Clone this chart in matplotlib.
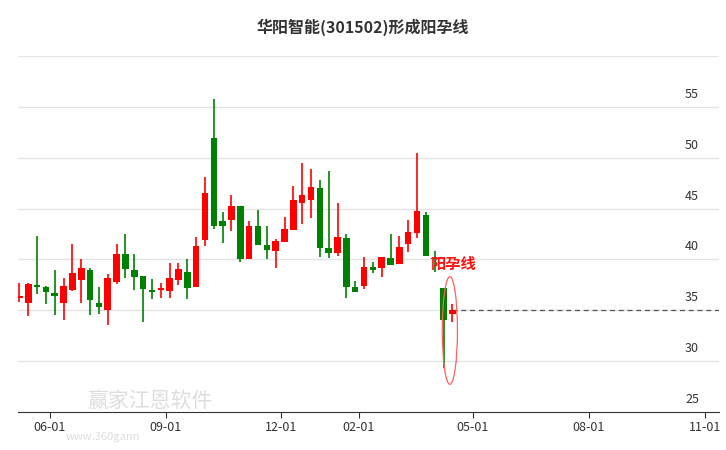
import numpy as np
import pandas as pd
import matplotlib
matplotlib.use("Agg")
import matplotlib.pyplot as plt
import matplotlib.dates as mdates
from matplotlib.patches import Ellipse

plt.rcParams['font.family'] = ['Noto Sans CJK SC', 'DejaVu Sans']

# weekly candles
dates = pd.date_range("2023-05-08", periods=50, freq="7D")
opens = [36.2, 35.7, 37.4, 37.3, 36.7, 35.7, 37.0, 38.0, 39.0, 35.7,
         35.0, 37.8, 40.5, 39.0, 38.4, 37.0, 37.0, 36.9, 38.0, 38.8,
         37.3, 41.9, 52.0, 43.8, 43.9, 45.3, 40.0, 43.3, 41.4, 40.8,
         41.7, 42.9, 45.6, 45.8, 47.0, 41.1, 40.6, 42.1, 37.3, 37.4,
         39.3, 39.2, 40.1, 39.5, 41.5, 42.6, 44.4, 40.1, 37.2, 34.6]
closes = [36.3, 37.6, 37.3, 36.8, 36.4, 37.4, 38.7, 39.2, 36.0, 35.3,
          38.2, 40.5, 39.1, 38.3, 37.1, 36.8, 37.2, 38.2, 39.1, 37.2,
          41.3, 46.5, 43.3, 43.3, 45.3, 40.0, 43.3, 41.4, 40.9, 41.8,
          43.0, 45.8, 46.3, 47.1, 41.1, 40.6, 42.2, 37.3, 36.8, 39.3,
          39.0, 40.2, 39.4, 41.2, 42.7, 44.8, 40.3, 40.0, 34.0, 35.0]
highs = [37.7, 37.7, 42.3, 37.4, 39.0, 38.2, 41.5, 40.0, 39.2, 37.3,
         38.6, 41.5, 42.5, 40.5, 38.4, 38.1, 37.7, 39.6, 39.6, 40.0,
         42.2, 48.1, 55.8, 44.7, 46.3, 45.3, 43.8, 44.9, 43.3, 42.0,
         44.2, 47.2, 49.5, 48.9, 47.8, 48.7, 45.6, 42.5, 37.9, 40.2,
         39.7, 40.2, 42.5, 42.3, 43.9, 50.5, 44.7, 40.8, 37.2, 35.6]
lows = [35.8, 34.4, 36.6, 35.6, 34.5, 34.0, 36.9, 35.7, 34.5, 34.6,
        33.5, 37.6, 38.2, 37.0, 33.8, 36.1, 36.2, 36.2, 37.5, 36.1,
        37.3, 41.3, 43.0, 41.6, 42.8, 39.7, 40.0, 41.4, 40.0, 39.2,
        41.7, 42.9, 43.5, 44.1, 40.2, 40.1, 40.3, 36.2, 36.8, 37.1,
        38.7, 38.3, 39.4, 39.5, 40.7, 42.1, 40.3, 38.8, 29.35, 33.8]

x_ticks = ["2023-06-01", "2023-09-01", "2023-12-01", "2024-02-01",
           "2024-05-01", "2024-08-01", "2024-11-01"]
y_ticks = [25, 30, 35, 40, 45, 50, 55]

fig = plt.figure(figsize=(7.26, 4.5), dpi=100)
ax = fig.add_axes([0.025, 0.085, 0.965, 0.79])

xd = mdates.date2num(dates)
for x, o, c, h, l in zip(xd, opens, closes, highs, lows):
    col = '#ff0000' if c >= o else '#008000'
    ax.vlines(x, l, h, color=col, lw=1.2, zorder=3)
    b0, b1 = min(o, c), max(o, c)
    ax.bar(x, max(b1 - b0, 0.15), bottom=b0, width=5.2, color=col, zorder=4)

# dashed line from last close
ax.plot([xd[-1], mdates.date2num(pd.Timestamp("2024-11-20"))], [closes[-1]] * 2,
        ls=(0, (4, 3)), color='#555555', lw=0.9, zorder=2)

ax.add_patch(Ellipse((xd[-1] - 2, 33.0), 12, 10.6, fill=False, ec='#ff6060', lw=0.9, zorder=5))
ax.text(xd[-1] - 17, 39.6, "阳孕线", color='#ff1010', fontsize=11, fontweight='bold',
        ha='left', va='center', zorder=6)

ax.set_xlim(mdates.date2num(pd.Timestamp("2023-05-07")), mdates.date2num(pd.Timestamp("2024-11-12")))
ax.set_ylim(25, 60)
ax.set_xticks(mdates.date2num(pd.to_datetime(x_ticks)))
ax.set_xticklabels([t[5:] for t in x_ticks], fontsize=9, color='#333333')
ax.set_yticks([])
for v in y_ticks:
    if v > 25:
        ax.axhline(v, color='#e3e3e3', lw=1, zorder=1)
    ax.text(0.972, v + 0.6, str(v), transform=ax.get_yaxis_transform(),
            ha='right', va='bottom', fontsize=9, color='#333333')
ax.axhline(60, color='#e8e8e8', lw=1, zorder=1)
for s in ['top', 'right', 'left']:
    ax.spines[s].set_visible(False)
ax.spines['bottom'].set_color('#333333')
ax.tick_params(axis='x', length=4, color='#333333', pad=3)

fig.text(0.12, 0.11, "赢家江恩软件", fontsize=15, color='#dddddd', ha='left', va='center', zorder=0)
fig.text(0.09, 0.03, "www.360gann", fontsize=8, color='#dddddd', ha='left', va='center', zorder=0)
fig.text(0.5, 0.94, "华阳智能(301502)形成阳孕线", fontsize=11.5, fontweight='bold',
         ha='center', va='center', color='#333333')

fig.savefig("out.png", dpi=100)
